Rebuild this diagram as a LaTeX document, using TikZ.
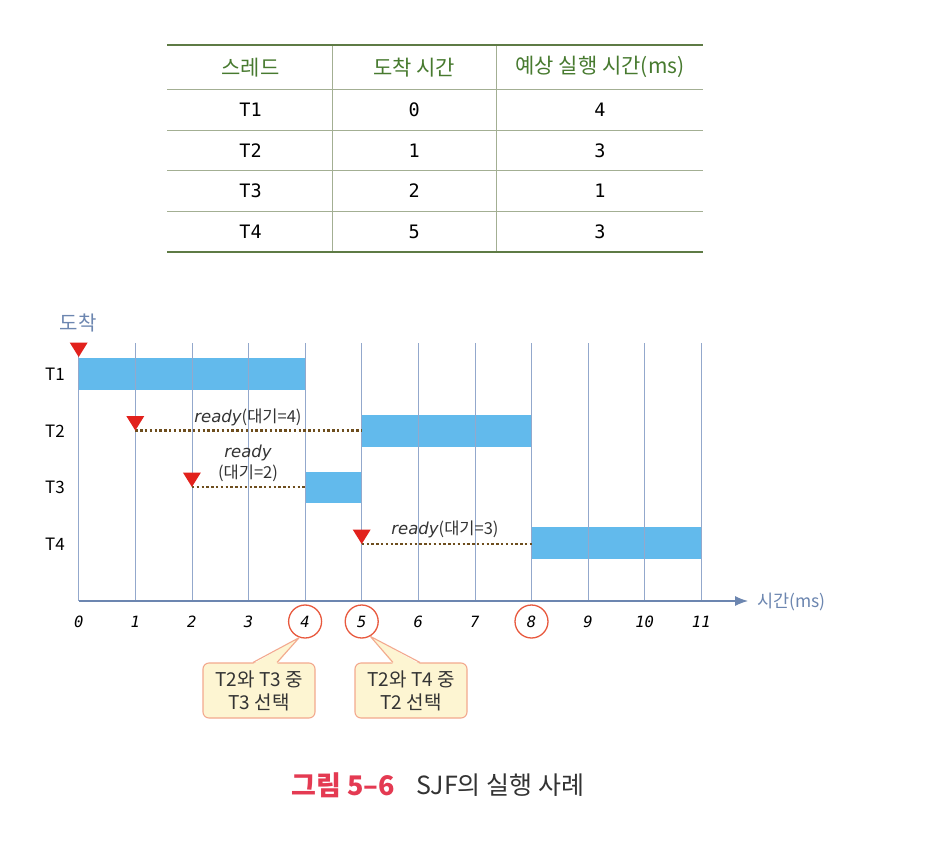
\documentclass[tikz,border=0pt]{standalone}
\usepackage{fontspec}
\setmainfont{Noto Sans CJK KR}
\newfontfamily\mono{DejaVu Sans Mono}
\newfontfamily\dvs{DejaVu Sans}
\usetikzlibrary{arrows.meta,calc}
\definecolor{tgreen}{HTML}{5E7B45}
\definecolor{tline}{HTML}{A3AF93}
\definecolor{htext}{HTML}{477A2F}
\definecolor{barblue}{HTML}{62BAEC}
\definecolor{gridc}{HTML}{93A8CC}
\definecolor{axisc}{HTML}{6C86B0}
\definecolor{trired}{HTML}{E2211C}
\definecolor{dotc}{HTML}{6E4E1E}
\definecolor{circc}{HTML}{E8593E}
\definecolor{calfill}{HTML}{FDF5D2}
\definecolor{caldraw}{HTML}{F3A98E}
\definecolor{capred}{HTML}{E43A52}
\definecolor{txt}{HTML}{333333}
\begin{document}
\begin{tikzpicture}[x=1pt,y=-1pt,
  thick rule/.style={draw=tgreen,line width=2.4pt},
  thin rule/.style={draw=tline,line width=0.9pt},
  hcell/.style={inner sep=0,text=htext,font=\fontsize{21}{24}\selectfont},
  bcell/.style={inner sep=0,text=black,font=\mono\fontsize{18.5}{20}\selectfont},
  rowlab/.style={inner sep=0,text=black,font=\fontsize{17}{20}\selectfont},
  bar/.style={fill=barblue},
  gridline/.style={draw=gridc,line width=0.8pt},
  waitline/.style={draw=dotc,line width=2.4pt,dash pattern=on 2.4pt off 2.4pt},
  arrive/.style={fill=trired},
  readylab/.style={inner sep=0,text=txt,font=\fontsize{16.5}{18}\selectfont},
  ticklab/.style={inner sep=0,text=black,font=\mono\itshape\fontsize{15.5}{18}\selectfont},
  mark circle/.style={circle,draw=circc,line width=1.3pt,minimum size=33pt,inner sep=0},
  callbox/.style={draw=caldraw,fill=calfill,line width=1.1pt,rounded corners=6pt,minimum width=112pt,minimum height=55pt,align=center,text=txt,font=\fontsize{19}{23}\selectfont,inner sep=0}
]
\useasboundingbox (0,0) rectangle (930,844);
\fill[white] (0,0) rectangle (930,844);

% ---------- table ----------
\coordinate (tl) at (167,45);
\coordinate (tr) at (703,45);
\coordinate (bl) at (167,251.7);
\coordinate (br) at (703,251.7);
\draw[thin rule] (332.7,45) -- (332.7,251.7);
\draw[thin rule] (496,45) -- (496,251.7);
\foreach \yy in {89.3,130.7,170.7,211}{
  \draw[thin rule] (167,\yy) -- (703,\yy);
}
\draw[thick rule] (tl) -- (tr);
\draw[thick rule] (bl) -- (br);

\node[hcell] (h1) at (250.5,67.3) {스레드};
\node[hcell] (h2) at (414.3,67.3) {도착 시간};
\node[hcell] (h3) at (600,67.3) {예상 실행 시간(ms)};

\foreach \n/\yy/\a/\b/\c in {1/110/T1/0/4, 2/150.5/T2/1/3, 3/191/T3/2/1, 4/231.5/T4/5/3}{
  \node[bcell] (ra\n) at (250.5,\yy) {\a};
  \node[bcell] (rb\n) at (414.3,\yy) {\b};
  \node[bcell] (rc\n) at (600,\yy) {\c};
}

% ---------- chart ----------
\foreach \i in {0,...,11}{
  \coordinate (g\i) at ({78.7+56.6*\i},601);
  \coordinate (gt\i) at ({78.7+56.6*\i},343);
}
% bars
\fill[bar] ($(gt0)+(0,15.3)$) rectangle ($(g4)+(0,-211)$);
\fill[bar] ($(gt5)+(0,72)$) rectangle ($(g8)+(0,-154)$);
\fill[bar] ($(gt4)+(0,129)$) rectangle ($(g5)+(0,-98)$);
\fill[bar] ($(gt8)+(0,184)$) rectangle ($(g11)+(0,-42)$);
% grid
\foreach \i in {0,...,11}{
  \draw[gridline] (gt\i) -- (g\i);
}
% axis
\coordinate (axend) at (748,601);
\draw[draw=axisc,line width=1.1pt,-{Latex[length=13pt,width=10pt]}] (g0) -- (axend);
\node[anchor=west,inner sep=0,text=axisc,font=\fontsize{17.5}{20}\selectfont] (axlab) at (757,602) {시간(ms)};
\node[inner sep=0,text=axisc,font=\fontsize{20}{22}\selectfont] (arrlab) at (78,323) {도착};

% row labels
\node[rowlab] (l1) at (55,374) {T1};
\node[rowlab] (l2) at (55,431) {T2};
\node[rowlab] (l3) at (55,487) {T3};
\node[rowlab] (l4) at (55,544) {T4};

% waiting lines
\coordinate (w2s) at ($(gt1)+(0,87.5)$);
\coordinate (w2e) at ($(gt5)+(0,87.5)$);
\coordinate (w3s) at ($(gt2)+(0,144)$);
\coordinate (w3e) at ($(gt4)+(0,144)$);
\coordinate (w4s) at ($(gt5)+(0,201)$);
\coordinate (w4e) at ($(gt8)+(0,201)$);
\draw[waitline] (w2s) -- (w2e);
\draw[waitline] (w3s) -- (w3e);
\draw[waitline] (w4s) -- (w4e);

% arrival triangles
\coordinate (a1) at ($(gt0)+(0,14)$);
\foreach \p in {a1,w2s,w3s,w4s}{
  \fill[arrive] ($(\p)+(-9,-14.5)$) -- ($(\p)+(9,-14.5)$) -- (\p) -- cycle;
}

% ready labels
\node[readylab] (rd2) at (248,417) {{\dvs\itshape ready}(대기=4)};
\node[readylab] (rd3a) at (248,453) {{\dvs\itshape ready}};
\node[readylab] (rd3b) at (248,473) {(대기=2)};
\node[readylab] (rd4) at (445,529) {{\dvs\itshape ready}(대기=3)};

% tick labels
\foreach \i in {0,...,11}{
  \node[ticklab] (t\i) at ($(g\i)+(0,21)$) {\i};
}
\node[mark circle] (c4) at ($(g4)+(0,20.5)$) {};
\node[mark circle] (c5) at ($(g5)+(0,20.5)$) {};
\node[mark circle] (c8) at ($(g8)+(0,20.5)$) {};

% callouts
\node[callbox] (cb1) at (259,690.5) {T2와 T3 중\\T3 선택};
\node[callbox] (cb2) at (411,690.5) {T2와 T4 중\\T2 선택};
\fill[calfill] ($(cb1.north)+(-6,1.6)$) -- (c4.250) -- ($(cb1.north)+(18,1.6)$) -- cycle;
\draw[draw=caldraw,line width=1.1pt,line join=round] ($(cb1.north)+(-6,0)$) -- (c4.250) -- ($(cb1.north)+(18,0)$);
\fill[calfill] ($(cb2.north)+(-18,1.6)$) -- (c5.300) -- ($(cb2.north)+(9,1.6)$) -- cycle;
\draw[draw=caldraw,line width=1.1pt,line join=round] ($(cb2.north)+(-18,0)$) -- (c5.300) -- ($(cb2.north)+(9,0)$);

% caption
\node[anchor=west,inner sep=0,text=capred,font=\bfseries\fontsize{27}{30}\selectfont] (cap1) at (291,785) {그림 5–6};
\node[anchor=west,inner sep=0,text=txt,font=\fontsize{25}{28}\selectfont] (cap2) at (416,785) {SJF의 실행 사례};
\end{tikzpicture}
\end{document}
